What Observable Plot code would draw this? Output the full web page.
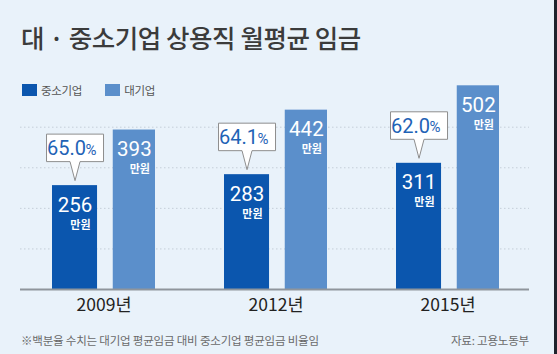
<!DOCTYPE html>
<html>
<head>
<meta charset="utf-8">
<script src="https://cdn.jsdelivr.net/npm/d3@7"></script>
<script src="https://cdn.jsdelivr.net/npm/@observablehq/plot@0.6"></script>
<style>
  html, body { margin: 0; padding: 0; }
  body { width: 557px; height: 354px; overflow: hidden; background: #e9f2fa; font-family: "Noto Sans CJK KR", sans-serif; }
  #wrap { position: relative; width: 557px; height: 354px; background: #e9f2fa; }
  #edge { position: absolute; right: 0; top: 0; width: 3px; height: 354px; background: #1f232c; }
  #title { position: absolute; left: 21px; top: 19px; font-size: 25.5px; font-weight: 500; color: #3b3b3b; letter-spacing: -0.45px; white-space: nowrap; line-height: 36px; }
  #legend { position: absolute; left: 22px; top: 82px; font-size: 11.5px; color: #555; display: flex; align-items: center; line-height: 16px; }
  #legend .sw { display: inline-block; width: 15px; height: 12px; margin-right: 4px; }
  #legend .item { display: flex; align-items: center; margin-right: 23px; letter-spacing: -0.3px; }
  #chart { position: absolute; left: 0; top: 60px; }
  #note { position: absolute; left: 21px; top: 332px; font-size: 11.5px; color: #6a6a6a; letter-spacing: -0.2px; white-space: nowrap; }
  #src { position: absolute; right: 28px; top: 332px; font-size: 11.5px; color: #6a6a6a; letter-spacing: -0.2px; white-space: nowrap; }
</style>
</head>
<body>
<div id="wrap">
  <div id="title"></div>
  <div id="legend"></div>
  <div id="chart"></div>
  <div id="note"></div>
  <div id="src"></div>
  <div id="edge"></div>
</div>
<script>
// ---- data ----
const titleText = "대 · 중소기업 상용직 월평균 임금";
const years = ["2009", "2012", "2015"];
const seriesNames = ["중소기업", "대기업"];
const smeWage = [256, 283, 311];      // 만원
const largeWage = [393, 442, 502];    // 만원
const ratioPct = ["65.0", "64.1", "62.0"];
const gridTicks = [100, 200, 300, 400];
const unitLabel = "만원";
const yearSuffix = "년";
const noteText = "※백분율 수치는 대기업 평균임금 대비 중소기업 평균임금 비율임";
const sourceText = "자료: 고용노동부";

// ---- styles ----
const colors = ["#0b56ae", "#5b8fcb"];
const numFont = "Roboto, 'Noto Sans CJK KR', sans-serif";
const krFont = "'Noto Sans CJK KR', sans-serif";

document.getElementById("title").textContent = titleText;
document.getElementById("note").textContent = noteText;
document.getElementById("src").textContent = sourceText;
const legend = document.getElementById("legend");
seriesNames.forEach((n, i) => {
  const it = document.createElement("span");
  it.className = "item";
  const sw = document.createElement("span");
  sw.className = "sw";
  sw.style.background = colors[i];
  it.appendChild(sw);
  it.appendChild(document.createTextNode(n));
  legend.appendChild(it);
});

const sme = years.map((y, i) => ({year: y, value: smeWage[i], ratio: ratioPct[i]}));
const large = years.map((y, i) => ({year: y, value: largeWage[i]}));

const W = 557, H = 265, mL = 20, mR = 28, mT = 18, mB = 36;
const xOpts = {type: "band", domain: years, paddingInner: 0.4, paddingOuter: 0.176, align: 0.52};
const xs = Plot.scale({x: {...xOpts, range: [mL, W - mR]}});
const bw = xs.bandwidth;
const darkW = 45.5, lightW = 42.7;
const darkDx = darkW / 2 - bw / 2;
const lightDx = bw / 2 - lightW / 2;

const callout = {
  draw(ctx) {
    ctx.moveTo(0, -5);
    ctx.lineTo(-5, -24);
    ctx.lineTo(-28.5, -24);
    ctx.lineTo(-28.5, -51.5);
    ctx.lineTo(28.5, -51.5);
    ctx.lineTo(28.5, -24);
    ctx.lineTo(5, -24);
    ctx.closePath();
  }
};

const chart = Plot.plot({
  width: W, height: H,
  marginLeft: mL, marginRight: mR, marginTop: mT, marginBottom: mB,
  style: {background: "transparent", fontFamily: krFont},
  x: {...xOpts, label: null},
  y: {domain: [0, 520], axis: null},
  marks: [
    Plot.ruleY(gridTicks, {stroke: "#c5ced8", strokeDasharray: "1.5,2.5", strokeWidth: 1}),
    Plot.barY(sme, {x: "year", y: "value", fill: colors[0], insetRight: bw - darkW, insetLeft: 0}),
    Plot.barY(large, {x: "year", y: "value", fill: colors[1], insetLeft: bw - lightW, insetRight: 0}),
    Plot.ruleY([0], {stroke: "#8f959c", strokeWidth: 2}),
    Plot.axisX({tickSize: 0, tickPadding: 9, tickFormat: d => d + yearSuffix, fontSize: 17.5, fill: "#222", fontFamily: krFont, letterSpacing: -1}),
    // values inside bars
    Plot.text(sme, {x: "year", y: "value", text: d => String(d.value), dx: darkDx, dy: 26, lineAnchor: "bottom", fill: "white", fontSize: 20.5, fontFamily: numFont, letterSpacing: -0.8}),
    Plot.text(sme, {x: "year", y: "value", text: () => unitLabel, dx: darkDx + 15.5, dy: 43, lineAnchor: "bottom", textAnchor: "end", fill: "white", fontSize: 11, fontWeight: 700, fontFamily: krFont}),
    Plot.text(large, {x: "year", y: "value", text: d => String(d.value), dx: lightDx, dy: 26, lineAnchor: "bottom", fill: "white", fontSize: 20.5, fontFamily: numFont, letterSpacing: -0.8}),
    Plot.text(large, {x: "year", y: "value", text: () => unitLabel, dx: lightDx + 15.5, dy: 43, lineAnchor: "bottom", textAnchor: "end", fill: "white", fontSize: 11, fontWeight: 700, fontFamily: krFont}),
    // callouts
    Plot.dot(sme, {x: "year", y: "value", dx: darkDx, symbol: callout, r: 1, fill: "white", stroke: "#8e8e8e", strokeWidth: 1}),
    Plot.text(sme, {x: "year", y: "value", text: "ratio", dx: darkDx + 11, dy: -30.5, lineAnchor: "bottom", textAnchor: "end", fill: "#1f63b6", fontSize: 20, fontFamily: numFont, letterSpacing: -0.8}),
    Plot.text(sme, {x: "year", y: "value", text: () => "%", dx: darkDx + 10.5, dy: -31, lineAnchor: "bottom", textAnchor: "start", fill: "#1f63b6", fontSize: 15, fontFamily: numFont})
  ]
});
document.getElementById("chart").appendChild(chart);
</script>
</body>
</html>
